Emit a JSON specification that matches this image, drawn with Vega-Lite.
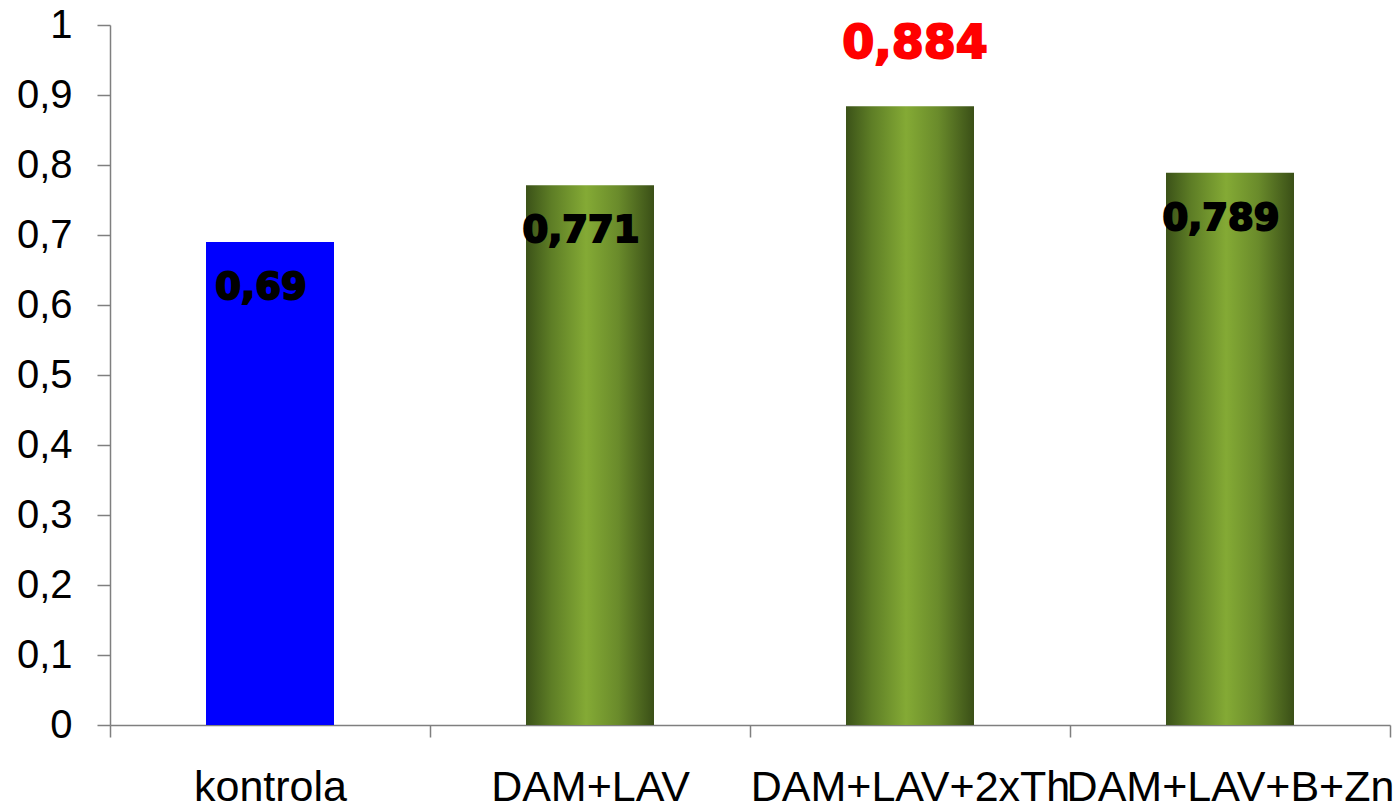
{
  "$schema": "https://vega.github.io/schema/vega-lite/v6.json",
  "width": 1280,
  "height": 700,
  "autosize": "none",
  "padding": {"left": 110, "top": 25, "right": 8, "bottom": 82},
  "background": "white",
  "config": {
    "view": {"stroke": null},
    "locale": {"number": {"decimal": ",", "thousands": ".", "grouping": [3], "currency": ["", " €"]}}
  },
  "data": {
    "values": [
      {"grupa": "kontrola", "wartosc": 0.69},
      {"grupa": "DAM+LAV", "wartosc": 0.771},
      {"grupa": "DAM+LAV+2xTh", "wartosc": 0.884},
      {"grupa": "DAM+LAV+B+Zn", "wartosc": 0.789}
    ]
  },
  "encoding": {
    "x": {
      "field": "grupa",
      "type": "nominal",
      "sort": null,
      "scale": {"paddingInner": 0, "paddingOuter": 0},
      "axis": {
        "title": null,
        "labelAngle": 0,
        "labelFont": "Liberation Sans",
        "labelFontSize": 43,
        "labelColor": "black",
        "labelPadding": 29,
        "labelLimit": 0,
        "labelOverlap": false,
        "tickBand": "extent",
        "tickSize": 12,
        "tickColor": "#7f7f7f",
        "domainColor": "#7f7f7f",
        "tickWidth": 1.5,
        "domainWidth": 1.5
      }
    },
    "y": {
      "field": "wartosc",
      "type": "quantitative",
      "scale": {"domain": [0, 1]},
      "axis": {
        "title": null,
        "values": [0, 0.1, 0.2, 0.3, 0.4, 0.5, 0.6, 0.7, 0.8, 0.9, 1],
        "format": ".1~f",
        "grid": false,
        "labelFont": "Liberation Sans",
        "labelFontSize": 40,
        "labelColor": "black",
        "labelPadding": 25,
        "tickSize": 13,
        "tickColor": "#7f7f7f",
        "domainColor": "#7f7f7f",
        "tickWidth": 1.5,
        "domainWidth": 1.5
      }
    }
  },
  "layer": [
    {
      "transform": [{"filter": "datum.grupa == 'kontrola'"}],
      "mark": {"type": "bar", "color": "#0000ff", "width": {"band": 0.4}}
    },
    {
      "transform": [{"filter": "datum.grupa != 'kontrola'"}],
      "mark": {
        "type": "bar",
        "width": {"band": 0.4},
        "color": {
          "gradient": "linear",
          "x1": 0, "y1": 0, "x2": 1, "y2": 0,
          "stops": [
            {"offset": 0, "color": "#3b5218"},
            {"offset": 0.2, "color": "#5e7e26"},
            {"offset": 0.47, "color": "#84aa35"},
            {"offset": 0.72, "color": "#6a8b2b"},
            {"offset": 1, "color": "#3a4f17"}
          ]
        }
      }
    },
    {
      "transform": [{"filter": "datum.grupa != 'DAM+LAV+2xTh'"}],
      "mark": {
        "type": "text",
        "font": "DejaVu Sans",
        "fontWeight": "bold",
        "fontSize": 37,
        "color": "black",
        "stroke": "black",
        "strokeWidth": 2,
        "baseline": "middle",
        "align": "center",
        "dx": -9,
        "dy": 46
      },
      "encoding": {"text": {"field": "wartosc", "type": "quantitative", "format": ".3~f"}}
    },
    {
      "transform": [{"filter": "datum.grupa == 'DAM+LAV+2xTh'"}],
      "mark": {
        "type": "text",
        "font": "DejaVu Sans",
        "fontWeight": "bold",
        "fontSize": 46,
        "color": "#ff0000",
        "stroke": "#ff0000",
        "strokeWidth": 2,
        "baseline": "middle",
        "align": "center",
        "dx": 5,
        "dy": -62
      },
      "encoding": {"text": {"field": "wartosc", "type": "quantitative", "format": ".3~f"}}
    }
  ]
}
